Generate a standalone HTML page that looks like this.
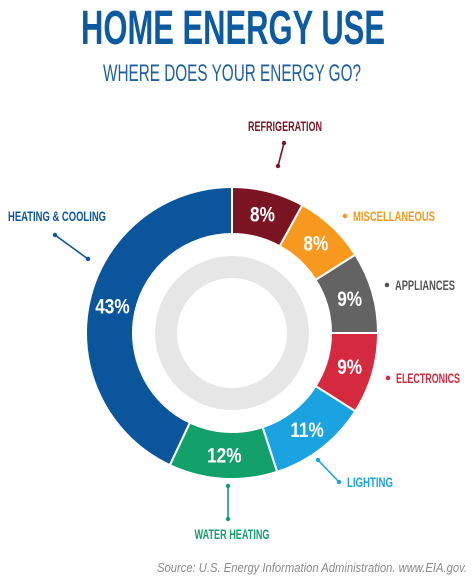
<!DOCTYPE html>
<html><head><meta charset="utf-8"><style>
html,body{margin:0;padding:0;background:#fff;}
svg{display:block;}
text{font-family:"Liberation Sans",sans-serif;}
</style></head><body>
<svg id="chart" width="474" height="578" viewBox="0 0 474 578">
<text x="233" y="44" text-anchor="middle" font-size="48" font-weight="bold" fill="#0d5aa0" textLength="304" lengthAdjust="spacingAndGlyphs">HOME ENERGY USE</text>
<text x="232" y="81" text-anchor="middle" font-size="24" fill="#1d5fa0" textLength="258" lengthAdjust="spacingAndGlyphs">WHERE DOES YOUR ENERGY GO?</text>
<circle cx="232" cy="333" r="66" fill="none" stroke="#e6e6e6" stroke-width="22"/>
<g id="slices"></g>
<g id="labels"></g>
<text x="467" y="572" text-anchor="end" font-size="13" font-style="italic" fill="#8a8a8a" textLength="310" lengthAdjust="spacingAndGlyphs">Source: U.S. Energy Information Administration. www.EIA.gov.</text>
</svg>
<script>
const categories = ["REFRIGERATION","MISCELLANEOUS","APPLIANCES","ELECTRONICS","LIGHTING","WATER HEATING","HEATING & COOLING"];
const values = [8,8,9,9,11,12,43];
const valueLabels = ["8%","8%","9%","9%","11%","12%","43%"];
const colors = ["#7b1523","#f7991f","#636363","#d4293f","#1aa3e0","#13a06b","#0a559b"];

const NS="http://www.w3.org/2000/svg";
const cx=232, cy=333, R=146, r0=99;
const total=values.reduce((a,b)=>a+b,0);
function pt(angle,rad){return [cx+rad*Math.sin(angle), cy-rad*Math.cos(angle)];}
const slices=document.getElementById('slices');
const lab=document.getElementById('labels');
let a=0;
const mids=[];
values.forEach((v,i)=>{
  const a1=a+v/total*2*Math.PI;
  const large=(a1-a)>Math.PI?1:0;
  const p1=pt(a,R),p2=pt(a1,R),p3=pt(a1,r0),p4=pt(a,r0);
  const p=document.createElementNS(NS,'path');
  p.setAttribute('d',`M${p1[0]},${p1[1]} A${R},${R} 0 ${large} 1 ${p2[0]},${p2[1]} L${p3[0]},${p3[1]} A${r0},${r0} 0 ${large} 0 ${p4[0]},${p4[1]} Z`);
  p.setAttribute('fill',colors[i]);
  p.setAttribute('stroke','#fff');
  p.setAttribute('stroke-width','2');
  
  
  slices.appendChild(p);
  const m=(a+a1)/2; mids.push(m);
  const c=pt(m,(R+r0)/2);
  const t=document.createElementNS(NS,'text');
  t.setAttribute('x',c[0]); t.setAttribute('y',c[1]+7);
  t.setAttribute('text-anchor','middle');
  t.setAttribute('font-size','21');
  t.setAttribute('font-weight','bold');
  t.setAttribute('fill','#fff');
  t.setAttribute('transform',`translate(${c[0]},0) scale(0.82,1) translate(${-c[0]},0)`);
  t.textContent=valueLabels[i];
  
  
  lab.appendChild(t);
  a=a1;
});
// category callouts: [textX, textY, textWidth, anchor, line x1,y1,x2,y2]
const callouts=[
  [285,131,74,'middle',284,143,278,166],
  [353,221,82,'start',345,216,345,216],
  [395,290,60,'start',387,285,387,285],
  [396,383,64,'start',388,378,388,378],
  [347,487,46,'start',318,460,339,482],
  [232,539,75,'middle',228,486,228,519],
  [57,221,98,'middle',55,235,88,259]
];
callouts.forEach((c,i)=>{
  const col=colors[i]==="#636363"?"#555":colors[i];
  const t=document.createElementNS(NS,'text');
  t.setAttribute('x',c[0]); t.setAttribute('y',c[1]);
  t.setAttribute('text-anchor',c[3]);
  t.setAttribute('font-size','13.5');
  t.setAttribute('font-weight','bold');
  t.setAttribute('fill',col);
  t.setAttribute('textLength',c[2]);
  t.setAttribute('lengthAdjust','spacingAndGlyphs');
  t.textContent=categories[i];
  
  
  lab.appendChild(t);
  if(c[4]!==c[6]||c[5]!==c[7]){
    const l=document.createElementNS(NS,'line');
    l.setAttribute('x1',c[4]);l.setAttribute('y1',c[5]);l.setAttribute('x2',c[6]);l.setAttribute('y2',c[7]);
    l.setAttribute('stroke',col);l.setAttribute('stroke-width','1.6');
    
    
    lab.appendChild(l);
  }
  [[c[4],c[5]],[c[6],c[7]]].forEach(d=>{
    const dot=document.createElementNS(NS,'circle');
    dot.setAttribute('cx',d[0]);dot.setAttribute('cy',d[1]);dot.setAttribute('r','2.2');
    dot.setAttribute('fill',col);
    
    
    lab.appendChild(dot);
  });
});
</script>
</body></html>
